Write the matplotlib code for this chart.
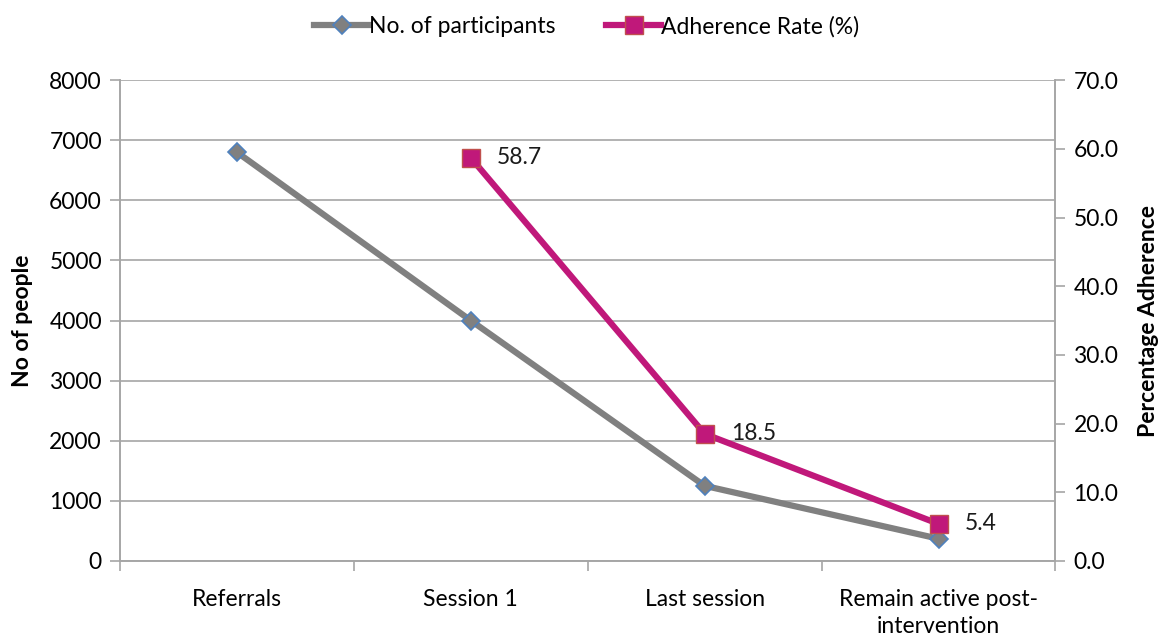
import matplotlib.pyplot as plt
from matplotlib.ticker import FixedLocator, FormatStrFormatter

# Datos del embudo de participación
etapas = ["Referrals", "Session 1", "Last session", "Remain active post-\nintervention"]
participantes = [6800, 4000, 1250, 370]
adherencia = [None, 58.7, 18.5, 5.4]

GRIS = "#808080"
MAGENTA = "#C0187A"
EJE = "#A6A6A6"
FS = 16.5

plt.rcParams["font.family"] = ["Lato", "DejaVu Sans"]

fig = plt.figure(figsize=(11.62, 6.36), dpi=100)
ax = fig.add_axes([0.1033, 0.118, 0.805, 0.756])
ax2 = ax.twinx()

x = list(range(len(etapas)))

ln1, = ax.plot(x, participantes, color=GRIS, linewidth=4.5, marker="D",
               markersize=9, markerfacecolor=GRIS, markeredgecolor="#4F81BD",
               markeredgewidth=1.2, zorder=3, label="No. of participants")

xa = [i for i, v in zip(x, adherencia) if v is not None]
ya = [v for v in adherencia if v is not None]
ln2, = ax2.plot(xa, ya, color=MAGENTA, linewidth=4.5, marker="s",
                markersize=13, markerfacecolor=MAGENTA, markeredgecolor="#C0504D",
                markeredgewidth=1.0, zorder=3, label="Adherence Rate (%)")
for xi, yi in zip(xa, ya):
    ax2.annotate(f"{yi:.1f}", xy=(xi, yi), xytext=(19, 0), textcoords="offset points",
                 ha="left", va="center", fontsize=FS, color="#1a1a1a")

ax.set_xlim(-0.5, 3.5)
ax.set_ylim(0, 8000)
ax.set_yticks(range(0, 8001, 1000))
ax2.set_ylim(0, 70)
ax2.set_yticks(range(0, 71, 10))
ax2.yaxis.set_major_formatter(FormatStrFormatter("%.1f"))

ax.set_xticks(x)
ax.set_xticklabels(etapas, fontsize=FS, linespacing=1.35)
ax.xaxis.set_minor_locator(FixedLocator([-0.5, 0.5, 1.5, 2.5, 3.5]))
ax.tick_params(axis="x", which="major", length=0, pad=20)
ax.tick_params(axis="x", which="minor", length=7, color=EJE, width=1.2)

ax.tick_params(axis="y", length=7, color=EJE, width=1.2, labelsize=FS, pad=6)
ax2.tick_params(axis="y", length=7, color=EJE, width=1.2, labelsize=FS, pad=6)

ax.grid(axis="y", color=EJE, linewidth=1.2, zorder=0)
ax.set_axisbelow(True)

for a in (ax, ax2):
    a.spines["top"].set_visible(False)
    for s in ("left", "right", "bottom"):
        a.spines[s].set_color(EJE)
        a.spines[s].set_linewidth(1.2)

ax.set_ylabel("No of people", fontsize=FS, fontweight="bold", labelpad=12)
ax2.set_ylabel("Percentage Adherence", fontsize=FS, fontweight="bold", labelpad=14)

fig.legend(handles=[ln1, ln2], loc="center", bbox_to_anchor=(0.505, 0.958), ncol=2,
           frameon=False, fontsize=FS, handlelength=2.4, handletextpad=0.0,
           columnspacing=2.2)

fig.savefig("out.png", dpi=100)
